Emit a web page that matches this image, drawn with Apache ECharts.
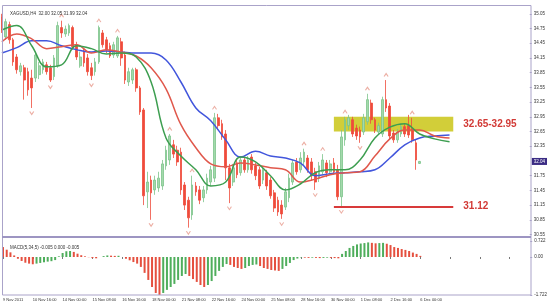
<!DOCTYPE html>
<html><head><meta charset="utf-8">
<script src="https://cdn.jsdelivr.net/npm/echarts@6/dist/echarts.min.js"></script>
<style>html,body{margin:0;padding:0;background:#fff}#c{width:550px;height:304px}</style>
</head><body><div id="c"></div>
<script>
const titleText = 'XAGUSD,H4  32.00 32.05 31.99 32.04';
const oscTitle = 'MACD(5,34,5) -0.005 0.000 -0.005';
const slotCount = 142;
const tickLabels = ['9 Nov 2011','10 Nov 16:00','14 Nov 00:00','15 Nov 08:00','16 Nov 16:00','18 Nov 00:00','21 Nov 08:00','22 Nov 16:00','24 Nov 00:00','25 Nov 08:00','28 Nov 16:00','30 Nov 00:00','1 Dec 08:00','2 Dec 16:00','6 Dec 00:00'];
const priceTicks = [30.55,30.85,31.15,31.45,31.75,32.35,32.65,32.95,33.25,33.55,33.85,34.15,34.45,34.75,35.05];
const oscTicks = [0.722, 0, -1.722];
// [open, close, low, high]
const ohlc = [
[34.99,34.72,34.66,35.05],[34.58,34.89,34.52,34.95],[34.83,34.52,34.44,34.89],[34.52,34.07,33.99,34.56],
[34.17,33.91,33.83,34.23],[33.87,33.99,33.79,34.05],[33.95,33.70,33.30,34.01],[33.87,33.50,33.38,33.95],
[33.74,33.54,33.13,33.91],[33.74,34.21,33.66,34.28],[33.81,33.99,33.72,34.07],[33.91,34.07,33.83,34.13],
[34.01,33.87,33.81,34.07],[33.95,33.70,33.66,34.01],[33.77,34.15,33.70,34.21],[33.99,34.81,33.95,34.89],
[34.77,34.66,34.56,34.91],[34.64,34.74,34.58,34.81],[34.66,34.81,34.60,34.85],[34.77,34.38,34.32,34.81],
[34.42,34.17,34.11,34.48],[33.99,34.17,33.95,34.28],[34.28,34.05,33.97,34.34],[34.15,33.87,33.79,34.23],
[33.95,33.79,33.70,34.05],[33.87,34.07,33.79,34.15],[34.07,34.77,34.03,34.81],[34.66,34.42,34.36,34.72],
[34.52,34.32,34.25,34.58],[34.40,34.19,34.15,34.46],[34.21,34.42,34.15,34.48],[34.19,34.56,34.15,34.60],
[34.48,34.15,33.99,34.56],[34.21,33.70,33.62,34.28],[33.66,33.87,33.58,33.95],[33.70,33.91,33.62,33.95],
[33.91,33.54,33.46,33.95],[33.54,33.05,32.99,33.58],[33.09,31.34,31.15,33.13],[31.42,31.62,31.09,31.83],
[31.66,31.40,30.85,31.75],[31.46,31.66,31.36,31.75],[31.50,31.70,31.42,31.83],[31.54,31.99,31.46,32.07],
[31.95,32.27,31.87,32.36],[32.07,32.56,31.97,32.60],[32.38,32.19,32.11,32.48],[32.27,32.03,31.95,32.36],
[32.23,31.46,31.36,32.32],[31.56,31.15,31.05,31.62],[31.25,30.89,30.69,31.32],[30.95,31.56,30.85,31.75],
[31.54,31.42,31.34,31.62],[31.46,31.25,31.17,31.54],[31.30,31.46,31.21,31.54],[31.46,31.70,31.38,31.79],
[31.62,31.87,31.54,31.95],[31.70,32.93,31.62,33.03],[32.93,32.77,32.68,33.01],[32.81,32.54,32.48,32.89],
[32.60,31.91,31.66,32.68],[31.91,31.50,31.19,31.99],[31.62,31.91,31.54,31.99],[32.01,31.77,31.70,32.07],
[31.81,32.07,31.75,32.15],[32.07,31.87,31.81,32.13],[31.87,32.07,31.81,32.15],[32.13,31.87,31.79,32.19],
[31.95,31.75,31.66,32.01],[31.87,31.54,31.48,31.93],[31.66,31.87,31.58,31.95],[31.81,31.54,31.46,31.87],
[31.66,31.34,31.28,31.72],[31.40,31.09,31.01,31.46],[31.25,31.01,30.93,31.32],[31.15,30.97,30.87,31.25],
[31.11,31.42,31.05,31.50],[31.30,31.70,31.21,31.79],[31.62,32.01,31.56,32.07],[32.03,31.83,31.77,32.11],
[31.87,32.11,31.81,32.23],[32.03,32.23,31.95,32.30],[32.11,31.87,31.81,32.17],[32.03,31.75,31.66,32.11],
[31.83,31.62,31.46,31.91],[31.70,31.95,31.62,32.03],[31.83,32.07,31.77,32.19],[32.01,31.81,31.72,32.07],
[31.83,31.99,31.77,32.07],[32.01,31.83,31.77,32.11],[31.87,31.32,31.25,31.97],[31.32,32.54,31.12,32.68],
[32.48,32.89,32.36,32.95],[32.77,32.93,32.68,32.99],[32.89,32.60,32.54,32.95],[32.72,32.56,32.48,32.79],
[32.68,32.54,32.42,32.75],[32.64,32.93,32.58,33.01],[32.85,33.30,32.79,33.42],[33.23,32.89,32.81,33.30],
[32.89,32.68,32.62,32.93],[32.64,32.77,32.58,32.83],[32.60,33.30,32.54,33.36],[33.30,33.13,33.05,33.70],
[33.17,32.56,32.50,33.23],[32.62,32.48,32.42,32.68],[32.48,32.64,32.42,32.70],[32.60,32.75,32.54,32.81],
[32.75,32.60,32.54,32.81],[32.77,32.58,32.52,32.99],[32.70,32.48,32.42,32.93],[32.42,32.07,31.87,32.48],
[32.00,32.04,31.99,32.05]
];
const osma = [
0.45,0.33,0.21,0.07,-0.08,-0.18,-0.26,-0.30,-0.33,
-0.30,-0.27,-0.24,-0.21,-0.19,-0.14,0.03,0.18,0.26,0.27,
0.23,0.15,0.08,0.03,-0.01,-0.05,-0.06,
0.00,0.04,0.07,0.06,0.05,0.055,
0.00,-0.08,-0.15,-0.23,-0.30,-0.45,-0.72,-1.04,-1.36,-1.63,-1.72,
-1.63,-1.49,-1.36,-1.22,-1.04,-0.86,-0.77,
-0.86,-1.00,-1.13,-1.27,-1.36,
-1.27,-1.09,-0.86,-0.63,-0.45,-0.32,
-0.36,-0.45,-0.50,-0.54,
-0.50,-0.41,-0.36,-0.34,
-0.41,-0.50,-0.54,-0.59,-0.61,-0.63,
-0.54,-0.41,-0.27,-0.14,-0.07,-0.02,
-0.03,-0.04,-0.03,-0.04,-0.05,-0.04,-0.03,-0.04,-0.05,-0.06,
0.14,0.27,0.41,0.50,0.57,0.61,0.63,0.66,
0.64,0.62,0.63,0.64,0.60,
0.54,0.45,0.41,0.36,0.32,0.27,0.20,0.14,0.05
];
const maIdx = [0,4,8,12,16,20,24,28,32,36,40,44,48,52,56,60,64,68,72,76,80,84,88,92,96,100,104,108,112,116,120];
const maFast = [34.72,34.81,34.40,33.97,34.01,34.40,34.34,34.23,34.25,34.17,33.66,32.52,32.15,31.87,31.54,31.62,32.13,32.03,31.75,31.46,31.58,31.81,31.87,31.87,32.07,32.52,32.74,32.81,32.60,32.50,32.44];
const maMid = [34.48,34.64,34.54,34.34,34.38,34.42,34.25,34.32,34.27,34.19,33.95,33.52,32.79,32.32,31.99,31.93,32.01,31.97,31.91,31.87,31.62,31.68,31.77,31.81,31.83,32.15,32.50,32.68,32.68,32.56,32.52];
const maSlow = [34.25,34.36,34.50,34.50,34.40,34.32,34.27,34.29,34.27,34.25,34.25,34.11,33.66,33.13,32.87,32.48,32.13,32.25,32.15,32.11,32.01,31.75,31.79,31.81,31.83,31.87,32.11,32.38,32.52,32.56,32.58];
const fractalUp = [16,26,31,45,51,57,81,86,92,98,103,110];
const fractalDown = [8,13,24,40,50,61,75,84,91,96];
const zoneLow = 32.65, zoneHigh = 32.95, zoneFrom = 88.5, zoneTo = 120.5;
const zoneText = '32.65-32.95';
const support = 31.12, supportFrom = 88.5, supportTo = 120.5;
const lastPrice = 32.04;

const categories = Array.from({length: slotCount}, (_, i) => String(i));
const FONT = 'Liberation Sans';
const frameColor = '#aaa3c9';
const annColor = '#d23a36';
const priceLabelValues = priceTicks.concat([lastPrice]);

const chart = echarts.init(document.getElementById('c'), null, {renderer: 'canvas'});
const pair = (arr) => maIdx.map((ix, k) => [ix, arr[k]]);
chart.setOption({
  animation: false,
  backgroundColor: '#ffffff',
  title: [
    {text: titleText, left: 5, top: 6, textStyle: {fontSize: 4.5, fontWeight: 'normal', color: '#333', fontFamily: FONT}},
    {text: oscTitle, left: 5, top: 240, textStyle: {fontSize: 4.5, fontWeight: 'normal', color: '#333', fontFamily: FONT}}
  ],
  grid: [
    {left: 0, width: 531, top: 5, height: 231},
    {left: 0, width: 531, top: 238, height: 57}
  ],
  xAxis: [
    {type: 'category', gridIndex: 0, data: categories, boundaryGap: true, show: false},
    {type: 'category', gridIndex: 1, data: categories, boundaryGap: true,
     axisLine: {show: false},
     axisTick: {show: true, interval: 7, alignWithLabel: true, length: 2, lineStyle: {color: '#777'}},
     axisLabel: {interval: 7, align: 'left', margin: 3, fontSize: 4, color: '#333', fontFamily: FONT,
       formatter: (v, idx) => tickLabels[idx / 8] || ''}}
  ],
  yAxis: [
    {type: 'value', gridIndex: 0, position: 'right', min: 30.52, max: 35.23, scale: true,
     splitLine: {show: false}, axisLine: {show: false},
     axisTick: {show: true, customValues: priceTicks, length: 2, lineStyle: {color: frameColor}},
     axisLabel: {customValues: priceLabelValues, margin: 2, fontSize: 4.5, color: '#333', fontFamily: FONT,
       formatter: v => v === lastPrice ? '{box|' + v.toFixed(2) + '}' : '{n|' + v.toFixed(2) + '}',
       rich: {
         box: {backgroundColor: '#3b2c84', color: '#fff', padding: [1, 2, 1, 2], fontSize: 4.5, fontFamily: FONT},
         n: {padding: [0, 0, 0, 2], fontSize: 4.5, color: '#333', fontFamily: FONT}
       }}},
    {type: 'value', gridIndex: 1, position: 'right', min: -1.722, max: 0.86,
     splitLine: {show: false}, axisLine: {show: false},
     axisTick: {show: true, customValues: oscTicks, length: 2, lineStyle: {color: frameColor}},
     axisLabel: {customValues: oscTicks, margin: 4, fontSize: 4.5, color: '#333', fontFamily: FONT,
       formatter: v => v === 0 ? '0.00' : String(v)}}
  ],
  graphic: [
    {type: 'rect', shape: {x: 2.5, y: 5.5, width: 528.5, height: 289.5}, style: {fill: 'none', stroke: frameColor, lineWidth: 1}, z: 100},
    {type: 'line', shape: {x1: 2, y1: 237, x2: 531, y2: 237}, style: {stroke: '#9d95c2', lineWidth: 2}, z: 100}
  ],
  series: [
    {type: 'candlestick', xAxisIndex: 0, yAxisIndex: 0, data: ohlc, barWidth: 2.2, z: 3,
     itemStyle: {color: '#a3d9ab', color0: '#ef4b3b', borderColor: '#7cc48a', borderColor0: '#ef4b3b', borderWidth: 0.8},
     markArea: {silent: true, z: 1,
       itemStyle: {color: 'rgba(202,198,22,0.85)'},
       label: {show: true, position: 'right', distance: 10, formatter: zoneText, color: annColor, fontSize: 10, fontWeight: 'bold', fontFamily: FONT},
       data: [[{coord: [zoneFrom, zoneHigh]}, {coord: [zoneTo, zoneLow]}]]},
     markLine: {silent: true, symbol: 'none', animation: false,
       data: [
         [{coord: [supportFrom, support], lineStyle: {color: '#d83a3a', width: 2, type: 'solid'},
           label: {show: true, position: 'end', distance: 10, formatter: '31.12', color: annColor, fontSize: 10, fontWeight: 'bold', fontFamily: FONT}},
          {coord: [supportTo, support]}]
       ]}
    },
    {type: 'line', xAxisIndex: 0, yAxisIndex: 0, data: pair(maSlow), smooth: 0.4, symbol: 'none', z: 4, lineStyle: {color: '#4256dc', width: 1.5}},
    {type: 'line', xAxisIndex: 0, yAxisIndex: 0, data: pair(maMid), smooth: 0.4, symbol: 'none', z: 4, lineStyle: {color: '#e0584c', width: 1.5}},
    {type: 'line', xAxisIndex: 0, yAxisIndex: 0, data: pair(maFast), smooth: 0.4, symbol: 'none', z: 4, lineStyle: {color: '#3d9e50', width: 1.5}},
    {type: 'scatter', xAxisIndex: 0, yAxisIndex: 0, z: 5, symbol: 'path://M0 4 L3 0 L6 4', symbolSize: [4, 3], symbolOffset: [0, -5],
     itemStyle: {color: 'none', borderColor: '#e79a8c', borderWidth: 1},
     data: fractalUp.map(i => [i, ohlc[i][3]])},
    {type: 'scatter', xAxisIndex: 0, yAxisIndex: 0, z: 5, symbol: 'path://M0 0 L3 4 L6 0', symbolSize: [4, 3], symbolOffset: [0, 5],
     itemStyle: {color: 'none', borderColor: '#e79a8c', borderWidth: 1},
     data: fractalDown.map(i => [i, ohlc[i][2]])},
    {type: 'bar', xAxisIndex: 1, yAxisIndex: 1, barWidth: 2, z: 3,
     data: osma.map((v, i) => ({value: v, itemStyle: {color: (i > 0 && v > osma[i - 1]) ? '#4fae5c' : '#e5503f'}}))}
  ]
});
</script></body></html>
